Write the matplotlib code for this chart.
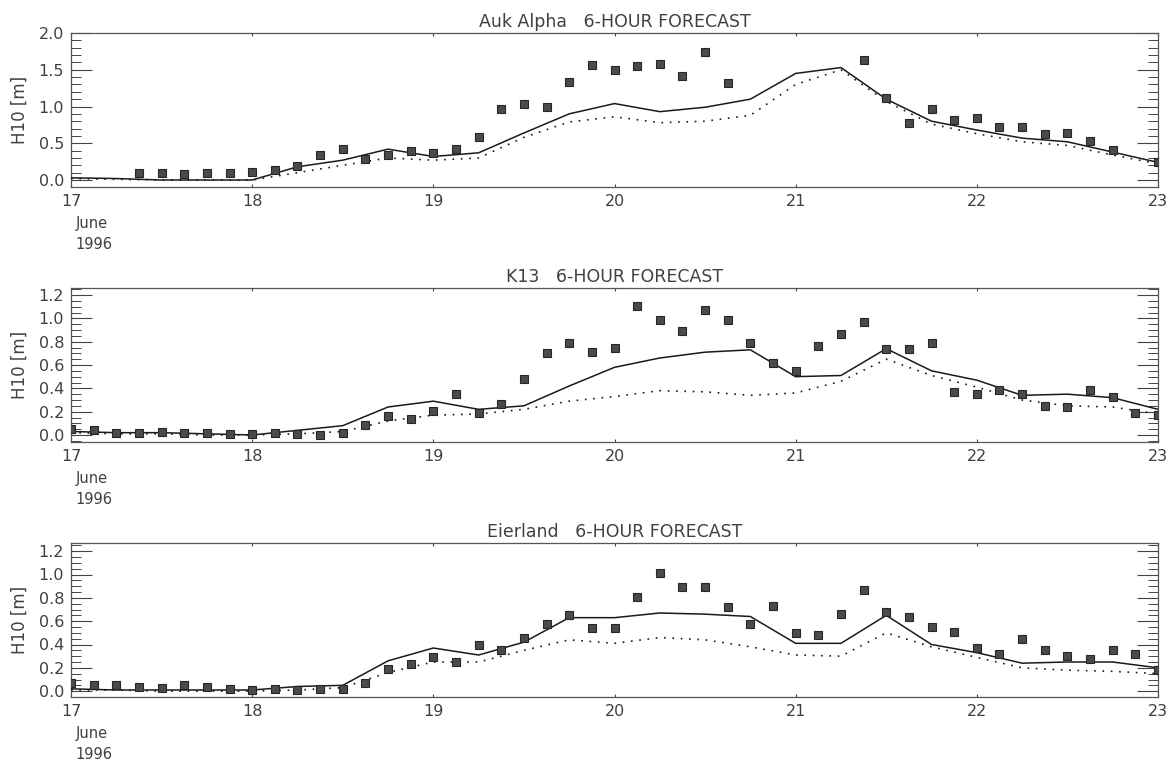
import numpy as np
import matplotlib
matplotlib.use("Agg")
import matplotlib.pyplot as plt
from matplotlib.ticker import MultipleLocator, FormatStrFormatter

# observation times: every 3 hours, 17 June 00:00 to 23 June 00:00
obs_time = np.arange(17.0, 23.0001, 0.125)
# model output every 6 hours
mod_time = np.arange(17.0, 23.0001, 0.25)

nan = np.nan

auk_obs = [nan, nan, nan, 0.09, 0.09, 0.08, 0.09, 0.09,
           0.11, 0.14, 0.19, 0.34, 0.42, 0.28, 0.34, 0.39,
           0.37, 0.42, 0.59, 0.97, 1.04, 1.00, 1.33, 1.56,
           1.49, 1.55, 1.58, 1.42, 1.74, 1.32, nan, nan,
           nan, nan, nan, 1.63, 1.12, 0.77, 0.97, 0.81,
           0.85, 0.72, 0.72, 0.62, 0.64, 0.53, 0.41, nan, 0.24]
auk_fc = [0.03, 0.02, 0.0, 0.0, 0.0, 0.18, 0.27, 0.42, 0.32, 0.37,
          0.64, 0.90, 1.04, 0.93, 0.99, 1.10, 1.45, 1.53, 1.10, 0.80,
          0.68, 0.57, 0.52, 0.38, 0.24]
auk_fc2 = [0.02, 0.01, 0.0, 0.0, 0.0, 0.10, 0.20, 0.30, 0.27, 0.30,
           0.58, 0.79, 0.86, 0.78, 0.80, 0.88, 1.30, 1.50, 1.07, 0.76,
           0.63, 0.52, 0.47, 0.34, 0.22]

k13_obs = [0.05, 0.04, 0.02, 0.02, 0.03, 0.02, 0.02, 0.01,
           0.01, 0.02, 0.01, 0.00, 0.02, 0.09, 0.16, 0.14,
           0.21, 0.35, 0.19, 0.27, 0.48, 0.70, 0.79, 0.71,
           0.75, 1.11, 0.99, 0.89, 1.07, 0.99, 0.79, 0.62,
           0.55, 0.76, 0.87, 0.97, 0.74, 0.74, 0.79, 0.37,
           0.35, 0.39, 0.35, 0.25, 0.24, 0.39, 0.33, 0.19, 0.17]
k13_fc = [0.03, 0.02, 0.02, 0.01, 0.0, 0.04, 0.08, 0.24, 0.29, 0.22,
          0.25, 0.42, 0.58, 0.66, 0.71, 0.73, 0.50, 0.51, 0.74, 0.55,
          0.47, 0.34, 0.35, 0.32, 0.22]
k13_fc2 = [0.02, 0.01, 0.01, 0.0, 0.0, 0.01, 0.03, 0.12, 0.17, 0.18,
           0.22, 0.29, 0.33, 0.38, 0.37, 0.34, 0.36, 0.46, 0.65, 0.51,
           0.41, 0.30, 0.25, 0.24, 0.18]

eier_obs = [0.07, 0.05, 0.05, 0.04, 0.03, 0.05, 0.04, 0.02,
            0.01, 0.02, 0.01, 0.02, 0.02, 0.07, 0.19, 0.23,
            0.29, 0.25, 0.40, 0.35, 0.46, 0.58, 0.65, 0.54,
            0.54, 0.81, 1.01, 0.89, 0.89, 0.72, 0.58, 0.73,
            0.50, 0.48, 0.66, 0.87, 0.68, 0.64, 0.55, 0.51,
            0.37, 0.32, 0.45, 0.35, 0.30, 0.28, 0.35, 0.32, 0.18]
eier_fc = [0.02, 0.01, 0.01, 0.01, 0.01, 0.04, 0.05, 0.26, 0.37, 0.31,
           0.42, 0.63, 0.63, 0.67, 0.66, 0.64, 0.41, 0.41, 0.65, 0.40,
           0.33, 0.24, 0.25, 0.25, 0.20]
eier_fc2 = [0.01, 0.01, 0.0, 0.0, 0.0, 0.01, 0.03, 0.16, 0.25, 0.25,
            0.35, 0.44, 0.41, 0.46, 0.44, 0.38, 0.31, 0.30, 0.50, 0.38,
            0.29, 0.20, 0.18, 0.17, 0.15]

stations = ["Auk Alpha", "K13", "Eierland"]
obs_sets = [auk_obs, k13_obs, eier_obs]
fc_sets = [auk_fc, k13_fc, eier_fc]
fc2_sets = [auk_fc2, k13_fc2, eier_fc2]
ylims = [(-0.095, 2.0), (-0.06, 1.26), (-0.05, 1.27)]
major = [0.5, 0.2, 0.2]
minor = [0.1, 0.05, 0.05]

W, H = 1176, 769
fig = plt.figure(figsize=(W / 100, H / 100), dpi=100)
plt.rcParams['font.family'] = 'DejaVu Sans'
tcol = '#404040'

left, right = 71, 1158
tops = [33, 288, 543]
ph = 154

for i in range(3):
    top = tops[i]
    ax = fig.add_axes([left / W, 1 - (top + ph) / H, (right - left) / W, ph / H])
    ax.plot(mod_time, fc_sets[i], color='#1a1a1a', lw=1.1, zorder=3)
    ax.plot(mod_time, fc2_sets[i], color='#1a1a1a', lw=1.2,
            linestyle=(0, (1, 4)), zorder=3)
    ax.plot(obs_time, obs_sets[i], linestyle='none', marker='s', ms=6.3,
            mfc='#4a4a4a', mec='#262626', mew=0.8, zorder=4)

    ax.set_xlim(17, 23)
    ax.set_ylim(*ylims[i])
    ax.set_xticks(np.arange(17, 24))
    ax.set_xticklabels([str(d) for d in range(17, 24)])
    ax.yaxis.set_major_locator(MultipleLocator(major[i]))
    ax.yaxis.set_minor_locator(MultipleLocator(minor[i]))
    ax.yaxis.set_major_formatter(FormatStrFormatter('%.1f'))

    ax.tick_params(axis='y', which='major', direction='in', length=15,
                   width=0.8, left=True, right=True, labelsize=11.5,
                   labelcolor=tcol, color='#444444', pad=5)
    ax.tick_params(axis='y', which='minor', direction='in', length=7,
                   width=0.7, left=True, right=True, color='#444444')
    ax.tick_params(axis='x', which='major', direction='in', length=2.5,
                   width=0.8, top=True, bottom=True, labelsize=11.5,
                   labelcolor=tcol, color='#444444', pad=5)
    for s in ax.spines.values():
        s.set_color('#555555')
        s.set_linewidth(0.9)

    ax.set_title(stations[i] + "   6-HOUR FORECAST", fontsize=12.5,
                 color=tcol, pad=4)
    ax.set_ylabel("H10 [m]", fontsize=12, color=tcol, labelpad=7)

    ax.text(0.004, -0.235, "June", transform=ax.transAxes, fontsize=10.5,
            color=tcol, ha='left', va='center')
    ax.text(0.004, -0.375, "1996", transform=ax.transAxes, fontsize=10.5,
            color=tcol, ha='left', va='center')

fig.savefig("out.png", dpi=100, facecolor='white')
